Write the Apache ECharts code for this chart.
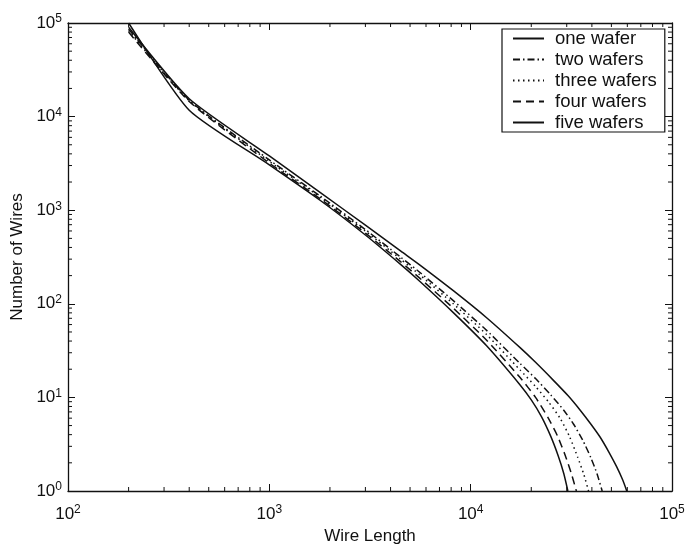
<!DOCTYPE html>
<html>
<head>
<meta charset="utf-8">
<script src="https://cdn.jsdelivr.net/npm/echarts@6/dist/echarts.min.js"></script>
<style>
  html, body { margin: 0; padding: 0; background: #fff; }
  #chart { width: 685px; height: 544px; }
</style>
</head>
<body>
<div id="chart"></div>
<script>
// Wire-length distributions for stacks of one to five wafers.
const seriesNames = ['one wafer', 'two wafers', 'three wafers', 'four wafers', 'five wafers'];

const oneLength   = [200, 400, 1000, 1800, 3000, 4500, 5600, 8200, 12000, 17600, 21000, 25700, 30500, 35000, 39500, 44000, 48500, 53000, 57000, 59600];
const oneCount    = [90000, 15500, 3800, 1530, 693, 365, 259, 138, 71, 34, 23.7, 15.3, 10.4, 7.3, 5.2, 3.75, 2.62, 1.83, 1.30, 1];

const twoLength   = [200, 400, 1000, 1800, 3000, 4500, 5600, 8200, 12000, 17600, 21000, 25000, 29000, 32400, 36000, 39500, 42500, 45000];
const twoCount    = [86000, 15000, 3443, 1403, 621, 314, 216, 108, 52, 23, 15.9, 10.6, 7.3, 5.2, 3.5, 2.28, 1.51, 1];

const threeLength = [200, 400, 1000, 1800, 3000, 4500, 5600, 8200, 12000, 17600, 21000, 24500, 27800, 31000, 34000, 36500, 38500];
const threeCount  = [83000, 14800, 3327, 1365, 598, 299, 203, 100, 46.9, 19.6, 13.1, 8.8, 6.0, 3.8, 2.3, 1.5, 1];

const fourLength  = [200, 400, 1000, 1800, 3000, 4500, 5600, 8200, 12000, 17600, 21000, 24300, 27000, 29500, 31700, 33500];
const fourCount   = [80000, 14500, 3185, 1312, 570, 280, 187, 89.7, 40.8, 16.3, 10.0, 6.0, 3.87, 2.40, 1.51, 1];

const fiveLength  = [200, 400, 1000, 1800, 3000, 4500, 5600, 8200, 12000, 17600, 20000, 22500, 25000, 27200, 29000, 30400];
const fiveCount   = [100000, 11700, 3050, 1262, 543, 262, 173, 80.5, 35.6, 13.6, 9.4, 6.2, 3.83, 2.38, 1.54, 1];

// Minor tick positions of the log axes.
const xMinorTicks = [200, 300, 400, 500, 600, 700, 800, 900,
                     2000, 3000, 4000, 5000, 6000, 7000, 8000, 9000,
                     20000, 30000, 40000, 50000, 60000, 70000, 80000, 90000];
const yMinorTicks = [2, 3, 4, 5, 6, 7, 8, 9,
                     20, 30, 40, 50, 60, 70, 80, 90,
                     200, 300, 400, 500, 600, 700, 800, 900,
                     2000, 3000, 4000, 5000, 6000, 7000, 8000, 9000,
                     20000, 30000, 40000, 50000, 60000, 70000, 80000, 90000];

const FONT = '"Liberation Sans", Arial, Helvetica, sans-serif';
const INK = '#111';
const MINOR_LEN = 4;

const lineTypes = [
  'solid',
  [7, 3, 1.5, 3],
  [1.5, 3.5],
  [8, 5],
  'solid'
];

const lengths = [oneLength, twoLength, threeLength, fourLength, fiveLength];
const counts  = [oneCount, twoCount, threeCount, fourCount, fiveCount];

function powerLabel(v) {
  const e = Math.round(Math.log10(v));
  return '{b|10}{s|' + e + '}';
}
const powerRich = {
  b: { fontSize: 17, fontFamily: FONT, color: INK, lineHeight: 20 },
  s: { fontSize: 12, fontFamily: FONT, color: INK, verticalAlign: 'top', lineHeight: 12 }
};

function logAxis(extra) {
  return Object.assign({
    type: 'log',
    logBase: 10,
    axisLine: { show: true, lineStyle: { color: INK, width: 1.3 } },
    axisTick: { show: true, inside: true, length: 7, lineStyle: { color: INK, width: 1 } },
    axisLabel: { show: false },
    splitLine: { show: false },
    minorTick: { show: false },
    minorSplitLine: { show: false }
  }, extra);
}

const xRange = { min: 100, max: 100000 };
const yRange = { min: 1, max: 100000 };

// Short inward tick marks on both opposite sides of the plot box, placed through the axis scales.
function minorTickSeries(values, vertical) {
  return {
    type: 'custom',
    xAxisIndex: 0,
    yAxisIndex: 0,
    silent: true,
    clip: false,
    z: 5,
    data: values.map(v => vertical ? [100, v] : [v, 1]),
    renderItem: function (params, api) {
      const cs = params.coordSys;
      const p = api.coord([api.value(0), api.value(1)]);
      const st = { stroke: INK, lineWidth: 1 };
      if (vertical) {
        return { type: 'group', children: [
          { type: 'line', shape: { x1: cs.x, y1: p[1], x2: cs.x + MINOR_LEN, y2: p[1] }, style: st },
          { type: 'line', shape: { x1: cs.x + cs.width, y1: p[1], x2: cs.x + cs.width - MINOR_LEN, y2: p[1] }, style: st }
        ] };
      }
      return { type: 'group', children: [
        { type: 'line', shape: { x1: p[0], y1: cs.y + cs.height, x2: p[0], y2: cs.y + cs.height - MINOR_LEN }, style: st },
        { type: 'line', shape: { x1: p[0], y1: cs.y, x2: p[0], y2: cs.y + MINOR_LEN }, style: st }
      ] };
    }
  };
}

const curveSeries = seriesNames.map((name, k) => ({
  name: name,
  type: 'line',
  xAxisIndex: 0,
  yAxisIndex: 0,
  symbol: 'none',
  showSymbol: false,
  smooth: 0.2,
  clip: true,
  lineStyle: { color: INK, width: 1.5, type: lineTypes[k] },
  itemStyle: { color: INK },
  data: lengths[k].map((x, i) => [x, counts[k][i]])
}));

const option = {
  animation: false,
  backgroundColor: '#fff',
  grid: { left: 68, right: 13, top: 23, bottom: 53, containLabel: false, outerBoundsMode: 'none' },
  legend: {
    data: seriesNames,
    orient: 'vertical',
    left: 502,
    top: 29,
    backgroundColor: '#fff',
    borderColor: INK,
    borderWidth: 1.2,
    borderRadius: 0,
    padding: [0, 8, 0, 10],
    itemWidth: 31,
    itemHeight: 10,
    itemGap: 2,
    itemStyle: { color: 'rgba(0,0,0,0)', borderWidth: 0, opacity: 0 },
    textStyle: { fontSize: 18.5, lineHeight: 18, fontFamily: FONT, color: INK, padding: [0, 0, 0, 6] }
  },
  xAxis: [
    logAxis(Object.assign({
      position: 'bottom',
      name: 'Wire Length',
      nameLocation: 'middle',
      nameGap: 31,
      nameTextStyle: { fontSize: 17, fontFamily: FONT, color: INK },
      axisLabel: { show: true, margin: 13, formatter: powerLabel, rich: powerRich, showMaxLabel: true, showMinLabel: true }
    }, xRange)),
    logAxis(Object.assign({ position: 'top' }, xRange))
  ],
  yAxis: [
    logAxis(Object.assign({
      position: 'left',
      name: 'Number of Wires',
      nameLocation: 'middle',
      nameGap: 31,
      nameTextStyle: { fontSize: 17, fontFamily: FONT, color: INK },
      axisLabel: { show: true, margin: 6, formatter: powerLabel, rich: powerRich, showMaxLabel: true, showMinLabel: true }
    }, yRange)),
    logAxis(Object.assign({ position: 'right' }, yRange))
  ],
  series: curveSeries.concat([
    minorTickSeries(xMinorTicks, false),
    minorTickSeries(yMinorTicks, true)
  ])
};

const chart = echarts.init(document.getElementById('chart'), null, { renderer: 'canvas' });
chart.setOption(option);
</script>
</body>
</html>
